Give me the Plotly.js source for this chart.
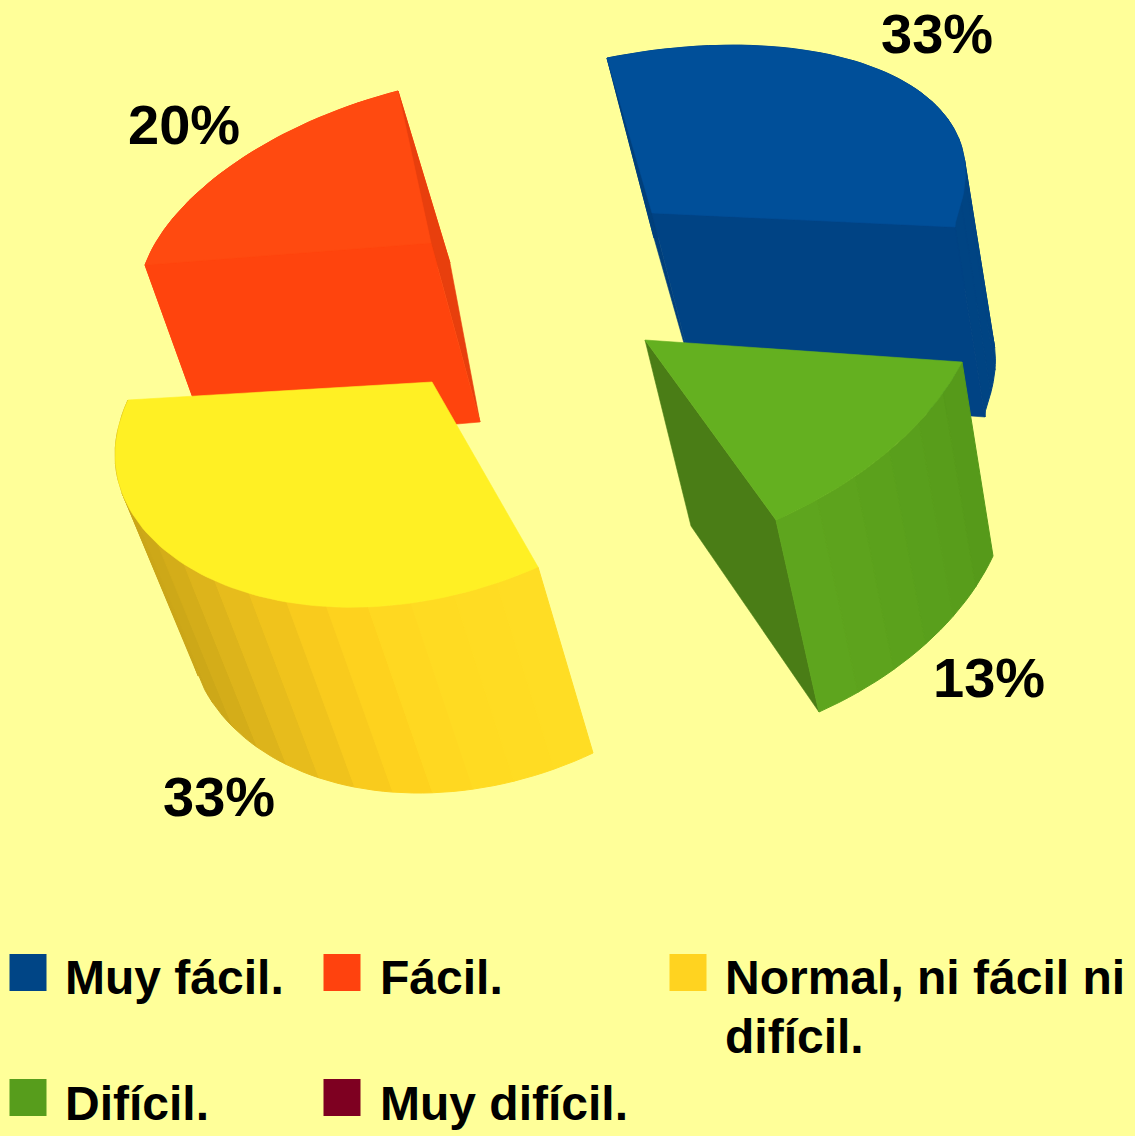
<!DOCTYPE html>
<html>
<head>
<meta charset="utf-8">
<script src="https://cdn.plot.ly/plotly-3.0.1.min.js"></script>
<style>html,body{margin:0;padding:0;background:#ffff99}</style>
</head>
<body>
<div id="chart" style="width:1135px;height:1136px"></div>
<script>
// ---- data ----
const categories = ['Muy fácil.', 'Fácil.', 'Normal, ni fácil ni difícil.', 'Difícil.', 'Muy difícil.'];
const values = [33, 20, 33, 13, 0];
const legendColors = ['#004586', '#ff420e', '#ffd320', '#579d1c', '#7e0021'];

// ---- projection of each exploded slice (apex, first corner, last corner; top and bottom plane) ----
const projection = [
  {top:[[652,213],[955,227],[607,58]], bottom:[[699,396],[985,417],[654,238]], pull:[0.05,0.35], pullB:[0.04,0.3], walls:['B','A'], wallsFirst:false},
  {top:[[431,243],[145,265],[398,91]], bottom:[[480,422],[210,445],[450,263]], pull:[0.01,0.5], pullB:[0,0.5], walls:['B','A'], wallsFirst:false},
  {top:[[432,382],[538,567],[128,400]], bottom:[[482,567],[593,753],[192,585]], pull:[-0.035,0.8], pullB:[-0.01,0.8], walls:[], wallsFirst:true},
  {top:[[645,340],[962,362],[776,520]], bottom:[[691,526],[993,556],[819,712]], pull:[0,0.5], pullB:[0,0.5], walls:['B'], wallsFirst:true}
];
const topColors = ['#004f99', '#ff4a10', '#fff024', '#64b020'];
const wallA = ['#004384', '#ff440d', '#ffdd24', '#4a7d16']; // inner wall at first corner
const wallB = ['#003f7b', '#e83f0d', '#c8a418', '#4a7d16']; // inner wall at last corner
const wallStops = [
  [[0,'#004483'],[1,'#004483']],
  [[0,'#ff440d'],[1,'#ff440d']],
  [[0,'#ffdd24'],[0.2,'#ffdb22'],[0.28,'#ffd41f'],[0.34,'#fdcf1d'],[0.43,'#f0c31c'],[0.52,'#e4ba1c'],[0.6,'#d8b01a'],[0.72,'#cba618'],[1,'#c8a418']],
  [[0,'#55991a'],[0.5,'#5aa01c'],[1,'#5fa61e']]
];
const labelPos = [[880,33.5],[127,124.5],[162,796],[932,677]];
const legendMarkX = [28, 342, 688, 28, 342];
const legendMarkY = [972.5, 972.5, 972.5, 1097.5, 1097.5];
const legendTextX = [64, 379, 724, 64, 379];
const legendTextY = [977, 977, 977, 1103, 1103];
const legendLineGap = 59;

const total = values.reduce((a,b)=>a+b,0);
const rad = d => d*Math.PI/180;
function hex(c){return [1,3,5].map(i=>parseInt(c.substr(i,2),16));}
function stopColor(stops,f){
  for(let i=1;i<stops.length;i++){
    if(f<=stops[i][0]){
      const w=(f-stops[i-1][0])/(stops[i][0]-stops[i-1][0]);
      const a=hex(stops[i-1][1]),b=hex(stops[i][1]);
      return 'rgb('+a.map((v,k)=>Math.round(v+(b[k]-v)*w)).join(',')+')';
    }
  }
  return stops[stops.length-1][1];
}
function arcPoint(plane,pull,alpha,t){
  const [p,a,b]=plane;
  const f=t/alpha, s=Math.sin(rad(alpha));
  const exp=Math.log(0.5)/Math.log(pull[1]);
  const r=(1-pull[0]*Math.sin(Math.PI*Math.pow(f,exp)))/s;
  const ca=Math.sin(rad(alpha-t))*r, cb=Math.sin(rad(t))*r;
  return [p[0]+ca*(a[0]-p[0])+cb*(b[0]-p[0]), p[1]+ca*(a[1]-p[1])+cb*(b[1]-p[1])];
}
function poly(pts,color,w){
  return {x:pts.map(q=>q[0]).concat([pts[0][0]]), y:pts.map(q=>q[1]).concat([pts[0][1]]),
    type:'scatter',mode:'lines',fill:'toself',fillcolor:color,
    line:{color:color,width:w===undefined?0.6:w,shape:'linear'},hoverinfo:'skip',showlegend:false};
}
const traces=[];
// painter's order: blue, red, yellow, green
values.forEach((v,i)=>{
  if(!v||!projection[i])return;
  const g=projection[i], alpha=360*v/total;
  const innerWalls=()=>{
    g.walls.forEach(w=>{
      const c=w==='A'?1:2;
      traces.push(poly([g.top[0],g.top[c],g.bottom[c],g.bottom[0]],w==='A'?wallA[i]:wallB[i]));
    });
  };
  if(g.wallsFirst) innerWalls();
  const nStrip=Math.max(3,Math.round(alpha/8));
  for(let s=nStrip-1;s>=0;s--){
    const t0=alpha*s/nStrip,t1=alpha*(s+1)/nStrip,pts=[],bot=[];
    for(let k=0;k<=4;k++){
      const t=t0+(t1-t0)*k/4;
      pts.push(arcPoint(g.top,g.pull,alpha,t));
      bot.unshift(arcPoint(g.bottom,g.pullB,alpha,t));
    }
    traces.push(poly(pts.concat(bot),stopColor(wallStops[i],(s+0.5)/nStrip),1));
  }
  if(!g.wallsFirst) innerWalls();
  const topPts=[g.top[0]];
  for(let t=0;t<=alpha+1e-6;t+=alpha/80) topPts.push(arcPoint(g.top,g.pull,alpha,t));
  traces.push(poly(topPts,topColors[i]));
});
traces.push({x:legendMarkX,y:legendMarkY,type:'scatter',mode:'markers',
  marker:{symbol:'square',size:37,color:legendColors,line:{width:0}},hoverinfo:'skip',showlegend:false});

const annotations=[];
values.forEach((v,i)=>{
  if(!v)return;
  annotations.push({x:labelPos[i][0],y:labelPos[i][1],xref:'x',yref:'y',xanchor:'left',yanchor:'middle',
    text:v+'%',showarrow:false,borderpad:0,
    font:{family:'Liberation Sans',size:56,color:'#000000',weight:700}});
});
const legendLines=[['Muy fácil.'],['Fácil.'],['Normal, ni fácil ni','difícil.'],['Difícil.'],['Muy difícil.']];
categories.forEach((c,i)=>{
  legendLines[i].forEach((ln,j)=>{
    annotations.push({x:legendTextX[i],y:legendTextY[i]+j*legendLineGap,xref:'x',yref:'y',xanchor:'left',yanchor:'middle',
      text:ln,showarrow:false,borderpad:0,
      font:{family:'Liberation Sans',size:48,color:'#000000',weight:700}});
  });
});
Plotly.newPlot('chart',traces,{
  width:1135,height:1136,autosize:false,
  margin:{l:0,r:0,t:0,b:0,pad:0},
  paper_bgcolor:'#ffff99',plot_bgcolor:'#ffff99',
  xaxis:{range:[0,1135],visible:false,fixedrange:true},
  yaxis:{range:[1136,0],visible:false,fixedrange:true},
  showlegend:false,annotations:annotations
},{displayModeBar:false,staticPlot:true});
</script>
</body>
</html>
